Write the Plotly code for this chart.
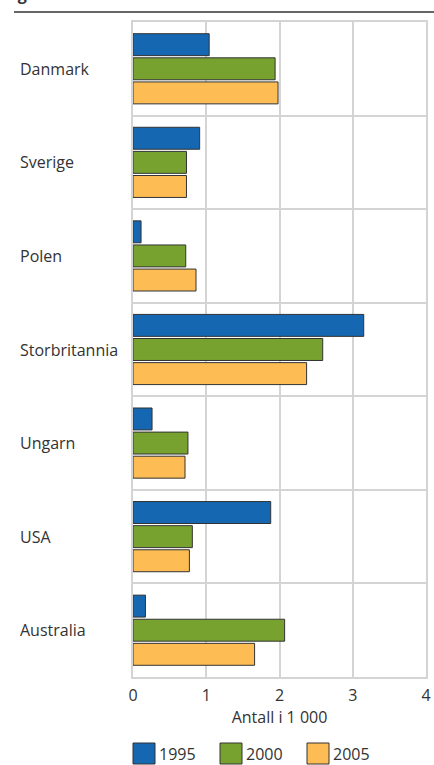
import plotly.graph_objects as go

categories = ["Danmark", "Sverige", "Polen", "Storbritannia", "Ungarn", "USA", "Australia"]
years = ["1995", "2000", "2005"]
v1995 = [1.04, 0.91, 0.11, 3.15, 0.26, 1.88, 0.17]
v2000 = [1.94, 0.73, 0.72, 2.59, 0.75, 0.81, 2.07]
v2005 = [1.98, 0.73, 0.86, 2.37, 0.71, 0.77, 1.66]
x_ticks = [0, 1, 2, 3, 4]
x_title = "Antall i 1 000"
fig_title = "Figur 3.5"

colors = ["#1467b0", "#78a22f", "#fdbd54"]
series = [v1995, v2000, v2005]

W, H = 434, 765
L, R, T, B = 133, 8, 22, 88
pw, ph = W - L - R, H - T - B

def px_x(p):
    return (p - L) / pw

def px_y(p):
    return 1 + (T - p) / ph

fig = go.Figure()
for name, vals, c in zip(years, series, colors):
    fig.add_trace(go.Bar(
        y=categories, x=vals, name=name, orientation="h",
        marker=dict(color=c, line=dict(color="#333333", width=1)),
        showlegend=False,
    ))

font_fam = "Open Sans, Noto Sans, sans-serif"
FS = 16
fig.update_layout(
    width=W, height=H, autosize=False,
    margin=dict(l=L, r=R, t=T, b=B, pad=0, autoexpand=False),
    paper_bgcolor="white", plot_bgcolor="white",
    barmode="group", bargap=0.227, bargroupgap=0.09,
    font=dict(family=font_fam, size=FS, color="#333333"),
    xaxis=dict(
        range=[0, 4], tickvals=x_ticks, ticktext=[str(t) for t in x_ticks],
        showgrid=True, gridcolor="#d4d4d4", gridwidth=2,
        showline=True, linecolor="#d4d4d4", linewidth=2, mirror=True,
        zeroline=False, ticks="", ticklabelstandoff=3, automargin=False,
        tickfont=dict(size=FS, color="#333333"),
        title=dict(text=x_title, font=dict(size=FS, color="#333333"), standoff=2),
    ),
    yaxis=dict(
        autorange="reversed", type="category", tickson="boundaries",
        showgrid=True, gridcolor="#d4d4d4", gridwidth=2,
        showline=True, linecolor="#d4d4d4", linewidth=2, mirror=True,
        showticklabels=False, ticks="", automargin=False,
    ),
)

# category labels, left aligned
for cat in categories:
    fig.add_annotation(x=px_x(18), xref="paper", y=cat, yref="y",
                       text=cat, showarrow=False, xanchor="left",
                       font=dict(size=FS, color="#333333"))

# header rule and cut-off title
fig.add_shape(type="line", xref="paper", yref="paper",
              x0=px_x(14), x1=px_x(434), y0=px_y(12), y1=px_y(12),
              line=dict(color="#333333", width=1.5))
fig.add_annotation(x=px_x(2), xref="paper", y=px_y(7), yref="paper",
                   text="<b>" + fig_title + "</b>", showarrow=False,
                   xanchor="left", yanchor="bottom",
                   font=dict(size=16, color="#333333"))

# manual legend
sq_x = [133, 220, 307]
for name, c, x0 in zip(years, colors, sq_x):
    fig.add_shape(type="rect", xref="paper", yref="paper",
                  x0=px_x(x0), x1=px_x(x0 + 22), y0=px_y(764), y1=px_y(743),
                  fillcolor=c, line=dict(color="#333333", width=1))
    fig.add_annotation(x=px_x(x0 + 24), xref="paper", y=px_y(753.5), yref="paper",
                       text=name, showarrow=False, xanchor="left", yanchor="middle",
                       font=dict(size=FS, color="#333333"))

fig.write_html("out.html", config={"displayModeBar": False},
               post_script="document.body.style.margin='0';document.body.style.overflow='hidden';")
